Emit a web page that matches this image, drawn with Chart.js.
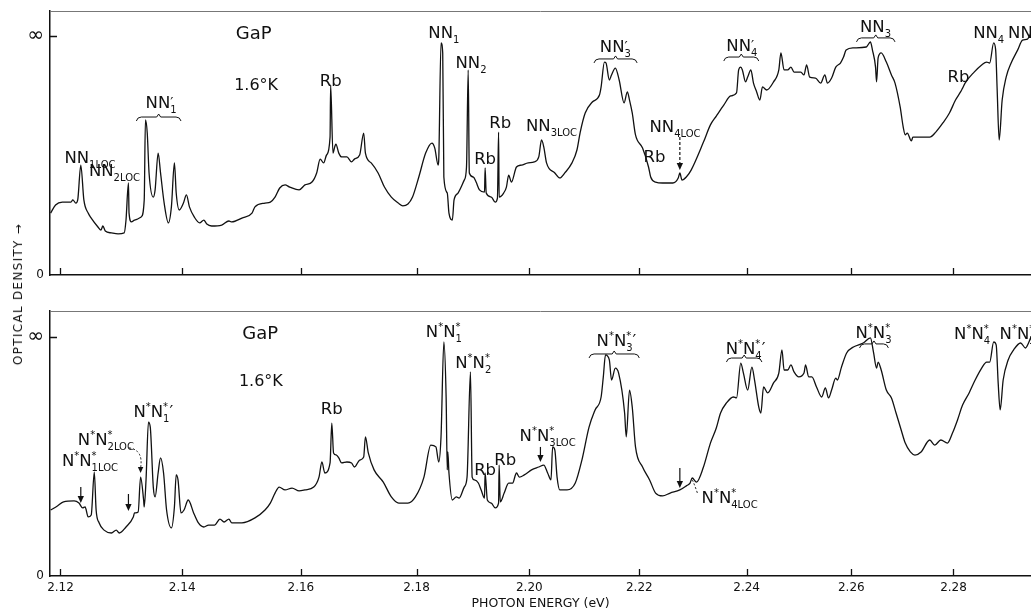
<!DOCTYPE html>
<html>
<head>
<meta charset="utf-8">
<script src="https://cdn.jsdelivr.net/npm/chart.js@4.4.1/dist/chart.umd.min.js"></script>
<style>
  html, body { margin: 0; padding: 0; background: #fff; overflow: hidden; }
  #wrap { position: relative; width: 1031px; height: 611px; }
  canvas { position: absolute; left: 0; }
  #top { top: 0; }
  #bottom { top: 290px; }
  #ytitle {
    position: absolute; left: 18px; top: 294px;
    transform: translate(-50%, -50%) rotate(-90deg);
    font: 12px "DejaVu Sans"; letter-spacing: 1.3px; white-space: nowrap; color: #111;
  }
</style>
</head>
<body>
<div id="wrap">
  <canvas id="top" width="1031" height="290"></canvas>
  <canvas id="bottom" width="1031" height="321"></canvas>
  <div id="ytitle">OPTICAL DENSITY →</div>
</div>
<script>
// photon energy (eV) tick values
const energyTicks = [2.12, 2.14, 2.16, 2.18, 2.20, 2.22, 2.24, 2.26, 2.28];

// [photon energy eV, optical density as fraction of the "infinity" level]
const topSpectrum = [
  [2.1184,0.259],[2.1192,0.293],[2.1203,0.305],[2.1217,0.305],[2.122,0.314],[2.1225,0.301],[2.1228,0.314],
  [2.1233,0.460],[2.1238,0.314],[2.1245,0.259],[2.125,0.238],[2.1261,0.201],[2.1266,0.188],[2.1269,0.205],
  [2.1273,0.184],[2.1283,0.176],[2.1294,0.172],[2.1304,0.176],[2.1307,0.230],[2.1311,0.385],[2.1312,0.259],
  [2.1316,0.222],[2.1321,0.230],[2.1332,0.243],[2.1337,0.314],[2.1339,0.649],[2.1342,0.594],[2.1345,0.427],
  [2.1352,0.326],[2.1355,0.356],[2.136,0.510],[2.1364,0.427],[2.137,0.301],[2.1377,0.218],[2.1382,0.285],
  [2.1387,0.469],[2.139,0.343],[2.1395,0.272],[2.1402,0.301],[2.1407,0.335],[2.1412,0.285],[2.142,0.243],
  [2.1429,0.218],[2.1436,0.230],[2.1441,0.213],[2.1449,0.205],[2.1466,0.209],[2.1478,0.226],[2.1483,0.222],
  [2.15,0.238],[2.1517,0.259],[2.1522,0.285],[2.1539,0.301],[2.1548,0.305],[2.1556,0.326],[2.1564,0.364],
  [2.1573,0.377],[2.1581,0.368],[2.1597,0.356],[2.1607,0.377],[2.1619,0.389],[2.1627,0.427],[2.1633,0.485],
  [2.1639,0.469],[2.1644,0.502],[2.165,0.577],[2.1651,0.795],[2.1655,0.510],[2.1658,0.536],[2.166,0.548],
  [2.1665,0.510],[2.167,0.494],[2.1679,0.494],[2.1687,0.473],[2.1692,0.485],[2.1701,0.502],[2.1708,0.594],
  [2.1711,0.510],[2.1721,0.469],[2.1733,0.427],[2.1744,0.368],[2.1756,0.326],[2.1768,0.301],[2.1776,0.289],
  [2.1785,0.297],[2.1793,0.326],[2.1804,0.410],[2.1816,0.510],[2.1827,0.552],[2.1832,0.531],[2.1838,0.460],
  [2.1839,0.481],[2.1843,0.971],[2.1846,0.929],[2.1848,0.410],[2.1854,0.343],[2.1857,0.259],[2.1863,0.230],
  [2.1866,0.314],[2.1873,0.343],[2.1884,0.397],[2.1888,0.452],[2.1891,0.858],[2.1893,0.427],[2.19,0.410],
  [2.1905,0.389],[2.1911,0.356],[2.192,0.347],[2.1921,0.448],[2.1923,0.343],[2.1932,0.326],[2.1939,0.305],
  [2.1943,0.322],[2.1945,0.598],[2.1946,0.326],[2.1954,0.343],[2.1959,0.368],[2.1963,0.418],[2.1968,0.389],
  [2.1977,0.452],[2.1986,0.460],[2.1998,0.469],[2.2009,0.473],[2.2017,0.494],[2.2022,0.565],[2.2026,0.536],
  [2.2031,0.469],[2.2046,0.427],[2.2055,0.406],[2.2064,0.427],[2.2077,0.469],[2.2086,0.523],[2.2092,0.598],
  [2.2101,0.678],[2.2114,0.724],[2.2127,0.753],[2.213,0.787],[2.2136,0.891],[2.2139,0.887],[2.2145,0.816],
  [2.2149,0.837],[2.2156,0.866],[2.2163,0.816],[2.2172,0.720],[2.2178,0.766],[2.2182,0.732],[2.2187,0.678],
  [2.2193,0.586],[2.2206,0.531],[2.2217,0.452],[2.2221,0.410],[2.223,0.389],[2.2243,0.385],[2.2262,0.385],
  [2.2272,0.406],[2.2275,0.427],[2.2279,0.397],[2.2287,0.410],[2.2296,0.439],[2.2319,0.556],[2.2332,0.628],
  [2.2343,0.665],[2.2357,0.711],[2.237,0.749],[2.2381,0.762],[2.2385,0.858],[2.2389,0.870],[2.2392,0.858],
  [2.2398,0.808],[2.2402,0.828],[2.2408,0.858],[2.2413,0.803],[2.2419,0.766],[2.2425,0.732],[2.243,0.787],
  [2.2438,0.774],[2.2451,0.808],[2.2461,0.858],[2.2465,0.929],[2.2471,0.858],[2.2478,0.858],[2.2484,0.870],
  [2.249,0.849],[2.2503,0.849],[2.2509,0.837],[2.2514,0.879],[2.252,0.828],[2.2531,0.824],[2.2541,0.803],
  [2.2549,0.837],[2.2554,0.803],[2.2562,0.824],[2.257,0.870],[2.2579,0.887],[2.2585,0.912],[2.259,0.941],
  [2.2604,0.950],[2.2629,0.954],[2.2637,0.975],[2.2641,0.941],[2.2647,0.870],[2.2649,0.808],[2.2652,0.908],
  [2.2658,0.929],[2.2668,0.891],[2.2678,0.837],[2.2685,0.803],[2.2695,0.703],[2.2701,0.619],[2.2705,0.586],
  [2.2709,0.594],[2.2717,0.561],[2.272,0.577],[2.2736,0.577],[2.2753,0.577],[2.2765,0.598],[2.2779,0.636],
  [2.2792,0.678],[2.2804,0.732],[2.2814,0.766],[2.2818,0.782],[2.2823,0.803],[2.2841,0.849],[2.2856,0.879],
  [2.2866,0.891],[2.2872,0.887],[2.288,0.971],[2.2884,0.941],[2.2887,0.774],[2.2891,0.565],[2.2897,0.732],
  [2.2905,0.828],[2.2915,0.887],[2.2928,0.941],[2.2938,0.983],[2.2948,0.987],[2.2955,1.013]
];

const bottomSpectrum = [
  [2.1184,0.276],[2.1195,0.293],[2.1205,0.310],[2.1222,0.314],[2.123,0.305],[2.1236,0.285],[2.124,0.289],
  [2.1245,0.247],[2.125,0.255],[2.1255,0.435],[2.1258,0.276],[2.1263,0.222],[2.1271,0.192],[2.1283,0.180],
  [2.1291,0.192],[2.1296,0.180],[2.1307,0.205],[2.1319,0.247],[2.1321,0.264],[2.1327,0.268],[2.1331,0.414],
  [2.1336,0.318],[2.1337,0.289],[2.134,0.402],[2.1344,0.644],[2.1347,0.623],[2.1352,0.372],[2.1355,0.331],
  [2.136,0.431],[2.1364,0.494],[2.1369,0.431],[2.1374,0.276],[2.1382,0.201],[2.1387,0.289],[2.139,0.423],
  [2.1393,0.402],[2.1398,0.264],[2.1403,0.276],[2.141,0.318],[2.1419,0.264],[2.1427,0.222],[2.1436,0.205],
  [2.1444,0.213],[2.1454,0.213],[2.1463,0.238],[2.147,0.226],[2.1478,0.238],[2.1483,0.222],[2.15,0.222],
  [2.1522,0.243],[2.1539,0.276],[2.1548,0.305],[2.1556,0.347],[2.1563,0.372],[2.1573,0.360],[2.1585,0.368],
  [2.1597,0.356],[2.1607,0.360],[2.1622,0.372],[2.1631,0.414],[2.1636,0.477],[2.1641,0.431],[2.165,0.473],
  [2.1653,0.640],[2.1656,0.515],[2.1661,0.506],[2.1665,0.494],[2.167,0.473],[2.1679,0.477],[2.1687,0.473],
  [2.1692,0.456],[2.1701,0.485],[2.1708,0.498],[2.1711,0.582],[2.1716,0.515],[2.1726,0.444],[2.1742,0.393],
  [2.1756,0.331],[2.1769,0.305],[2.1785,0.305],[2.1798,0.331],[2.1813,0.414],[2.1825,0.548],[2.1834,0.540],
  [2.1839,0.477],[2.1843,0.582],[2.1848,0.979],[2.1852,0.749],[2.1854,0.444],[2.1855,0.519],[2.1857,0.431],
  [2.1863,0.318],[2.187,0.331],[2.1875,0.326],[2.1884,0.372],[2.1889,0.414],[2.1895,0.854],[2.1898,0.414],
  [2.1902,0.402],[2.1909,0.389],[2.1914,0.360],[2.192,0.326],[2.1921,0.431],[2.1925,0.318],[2.1932,0.305],
  [2.1939,0.285],[2.1945,0.305],[2.1946,0.464],[2.1948,0.310],[2.1955,0.347],[2.1963,0.389],[2.197,0.389],
  [2.1977,0.431],[2.1982,0.414],[2.1991,0.423],[2.2004,0.444],[2.2017,0.456],[2.2026,0.464],[2.2033,0.431],
  [2.2039,0.402],[2.2042,0.540],[2.2046,0.527],[2.205,0.414],[2.2055,0.360],[2.2068,0.360],[2.2083,0.389],
  [2.2095,0.485],[2.2108,0.623],[2.2119,0.695],[2.213,0.749],[2.2134,0.833],[2.2138,0.925],[2.2145,0.904],
  [2.2149,0.820],[2.2156,0.870],[2.2162,0.849],[2.2173,0.682],[2.2176,0.582],[2.2182,0.778],[2.2187,0.707],
  [2.2193,0.540],[2.2206,0.456],[2.2219,0.402],[2.223,0.347],[2.2243,0.335],[2.2257,0.347],[2.2275,0.360],
  [2.2287,0.377],[2.2294,0.389],[2.2298,0.410],[2.2306,0.393],[2.2319,0.456],[2.2332,0.556],[2.2343,0.619],
  [2.2351,0.682],[2.2362,0.724],[2.2375,0.749],[2.2381,0.745],[2.2389,0.891],[2.2394,0.849],[2.2402,0.778],
  [2.241,0.874],[2.2415,0.820],[2.2423,0.707],[2.2427,0.682],[2.2432,0.791],[2.244,0.766],[2.2451,0.808],
  [2.2461,0.849],[2.2467,0.946],[2.2471,0.862],[2.2478,0.862],[2.2484,0.883],[2.249,0.854],[2.2499,0.833],
  [2.2509,0.849],[2.2512,0.883],[2.2518,0.833],[2.2524,0.833],[2.2533,0.791],[2.2543,0.749],[2.255,0.787],
  [2.2556,0.745],[2.2562,0.778],[2.257,0.828],[2.2573,0.820],[2.2581,0.874],[2.2591,0.933],[2.2604,0.958],
  [2.2623,0.975],[2.2637,0.996],[2.2643,0.937],[2.2649,0.870],[2.2652,0.895],[2.2658,0.862],[2.2668,0.778],
  [2.2678,0.745],[2.2687,0.682],[2.2697,0.611],[2.2705,0.556],[2.2715,0.519],[2.2724,0.506],[2.2736,0.519],
  [2.2753,0.569],[2.2763,0.548],[2.2775,0.569],[2.2788,0.556],[2.2798,0.598],[2.2808,0.653],[2.2818,0.715],
  [2.2831,0.766],[2.2843,0.820],[2.2856,0.870],[2.2866,0.895],[2.2872,0.895],[2.288,0.979],[2.2885,0.967],
  [2.2889,0.808],[2.2893,0.695],[2.2899,0.820],[2.2909,0.904],[2.292,0.946],[2.2934,0.975],[2.2944,0.954],
  [2.295,0.975],[2.2955,1.0]
];

// annotations: text (_ = subscript, ^ = superscript), energy, density
const topLabels = [
  ['GaP', 2.1520, 1.013], ['1.6°K', 2.1524, 0.799], ['Rb', 2.1651, 0.816],
  ['NN_{1LOC}', 2.1248, 0.494], ['NN_{2LOC}', 2.1288, 0.439], ['NN_1^′', 2.1365, 0.724],
  ['NN_1', 2.1848, 1.017], ['NN_2', 2.1896, 0.891], ['Rb', 2.1948, 0.640], ['Rb', 2.1921, 0.490],
  ['NN_{3LOC}', 2.2040, 0.628], ['NN_3^′', 2.2156, 0.958], ['Rb', 2.2228, 0.498],
  ['NN_{4LOC}', 2.2266, 0.623], ['NN_4^′', 2.2391, 0.962], ['NN_3', 2.2647, 1.042],
  ['Rb', 2.2810, 0.833], ['NN_4', 2.2870, 1.017], ['NN_5', 2.2940, 1.017]
];
const topBrackets = [[2.1324, 2.1398, 0.661], [2.2117, 2.2196, 0.904], [2.2357, 2.2423, 0.912], [2.2610, 2.2685, 0.992]];
const topArrows = [[2.2275, 0.577, 0.439, true]];
const topCurves = [];

const bottomLabels = [
  ['GaP', 2.1531, 1.017], ['1.6°K', 2.1532, 0.820], ['N^*N_1^*′', 2.1352, 0.690],
  ['N^*N_{2LOC}^*', 2.1274, 0.573], ['N^*N_{1LOC}^*', 2.1248, 0.485], ['Rb', 2.1653, 0.703],
  ['N^*N_1^*', 2.1848, 1.025], ['N^*N_2^*', 2.1900, 0.895], ['Rb', 2.1921, 0.448], ['Rb', 2.1957, 0.490],
  ['N^*N_{3LOC}^*', 2.2033, 0.590], ['N^*N_3^*′', 2.2158, 0.987], ['N^*N_4^*′', 2.2398, 0.954],
  ['N^*N_3^*', 2.2643, 1.021], ['N^*N_4^*', 2.2837, 1.017], ['N^*N_5^*', 2.2928, 1.017],
  ['N^*N_{4LOC}^*', 2.2368, 0.331]
];
const bottomBrackets = [[2.2108, 2.2200, 0.929], [2.2362, 2.2429, 0.912], [2.2616, 2.2672, 0.971]];
const bottomArrows = [[2.1233, 0.372, 0.305, false], [2.1311, 0.343, 0.272, false], [2.2020, 0.540, 0.477, false], [2.2275, 0.452, 0.368, false]];
const bottomCurves = [[2.1312, 0.536, 2.1331, 0.431, true], [2.2298, 0.402, 2.2308, 0.345, false]];

const FONT = '"DejaVu Sans", sans-serif';

// x axis: the spectrometer scale is close to linear in E^-1.75
class PowerScale extends Chart.LinearScale {
  static id = 'power';
  configure() {
    super.configure();
    this._p = this.options.exponent || -1.75;
    this._u0 = Math.pow(this.min, this._p);
    this._u1 = Math.pow(this.max, this._p);
  }
  getPixelForValue(value) {
    if (value === null || value === undefined || isNaN(value)) return NaN;
    return this.getPixelForDecimal((Math.pow(value, this._p) - this._u0) / (this._u1 - this._u0));
  }
  getValueForPixel(pixel) {
    const d = this.getDecimalForPixel(pixel);
    return Math.pow(this._u0 + d * (this._u1 - this._u0), 1 / this._p);
  }
}
Chart.register(PowerScale);

function parseRich(s) {
  const out = [];
  let i = 0;
  while (i < s.length) {
    let kind = 'n';
    if (s[i] === '_' || s[i] === '^') { kind = s[i] === '_' ? 'sub' : 'sup'; i++; }
    let txt;
    if (s[i] === '{') { const j = s.indexOf('}', i); txt = s.slice(i + 1, j); i = j + 1; }
    else { txt = s[i]; i++; }
    if (kind === 'n' && out.length && out[out.length - 1].kind === 'n') out[out.length - 1].txt += txt;
    else out.push({ kind, txt });
  }
  return out;
}

function drawRich(ctx, s, cx, cy, size) {
  const small = Math.round(size * 0.62);
  const segSize = seg => seg.kind === 'n' ? size : (seg.txt === '′' ? size * 0.85 : small);
  let x = 0, prevStart = 0, prevKind = null;
  const placed = [];
  for (const seg of parseRich(s)) {
    ctx.font = segSize(seg) + 'px ' + FONT;
    const w = ctx.measureText(seg.txt).width;
    let sx = x;
    if (seg.kind === 'sup' && prevKind === 'sub') { sx = prevStart; x = Math.max(x, sx + w); }
    else x = sx + w;
    placed.push({ kind: seg.kind, txt: seg.txt, sx, fs: segSize(seg) });
    prevStart = sx; prevKind = seg.kind;
  }
  const left = cx - x / 2;
  const base = cy + size * 0.36;
  ctx.textAlign = 'left';
  ctx.textBaseline = 'alphabetic';
  for (const p of placed) {
    ctx.font = p.fs + 'px ' + FONT;
    let dy = 0;
    if (p.kind === 'sub') dy = size * 0.3;
    else if (p.kind === 'sup') dy = p.txt === '′' ? -size * 0.05 : -size * 0.42;
    ctx.fillText(p.txt, left + p.sx, base + dy);
  }
}

function arrowHead(ctx, x, y, dirY, size) {
  ctx.beginPath();
  ctx.moveTo(x, y);
  ctx.lineTo(x - size * 0.45, y - dirY * size);
  ctx.lineTo(x + size * 0.45, y - dirY * size);
  ctx.closePath();
  ctx.fill();
}

// frame line on top, inward tick marks
const framePlugin = {
  id: 'frame',
  afterDraw(chart) {
    const { ctx, chartArea: a, scales: { x, y } } = chart;
    ctx.save();
    ctx.strokeStyle = '#777';
    ctx.lineWidth = 1;
    ctx.beginPath();
    ctx.moveTo(a.left, a.top + 0.5);
    ctx.lineTo(a.right, a.top + 0.5);
    ctx.stroke();
    ctx.strokeStyle = '#111';
    ctx.lineWidth = 1.3;
    ctx.beginPath();
    energyTicks.forEach(v => {
      const px = Math.round(x.getPixelForValue(v)) + 0.5;
      ctx.moveTo(px, a.bottom);
      ctx.lineTo(px, a.bottom - 7);
    });
    const py = Math.round(y.getPixelForValue(1)) + 0.5;
    ctx.moveTo(a.left, py);
    ctx.lineTo(a.left + 7, py);
    ctx.stroke();
    ctx.restore();
  }
};

function marksPlugin(labels, brackets, arrows, curves) {
  return {
    id: 'marks',
    afterDatasetsDraw(chart) {
      const { ctx, scales: { x, y } } = chart;
      ctx.save();
      ctx.fillStyle = '#111';
      ctx.strokeStyle = '#111';
      labels.forEach(([t, e, d]) => {
        const size = (t === 'GaP') ? 18 : (t === '1.6°K' ? 16 : 16.5);
        drawRich(ctx, t, x.getPixelForValue(e), y.getPixelForValue(d), size);
      });
      ctx.lineWidth = 1;
      brackets.forEach(([e1, e2, d]) => {
        const x1 = x.getPixelForValue(e1), x2 = x.getPixelForValue(e2), py = y.getPixelForValue(d);
        const xc = (x1 + x2) / 2;
        ctx.beginPath();
        ctx.moveTo(x1, py + 4);
        ctx.quadraticCurveTo(x1 + 1, py, x1 + 5, py);
        ctx.lineTo(xc - 2, py);
        ctx.lineTo(xc, py - 3);
        ctx.lineTo(xc + 2, py);
        ctx.lineTo(x2 - 5, py);
        ctx.quadraticCurveTo(x2 - 1, py, x2, py + 4);
        ctx.stroke();
      });
      arrows.forEach(([e, d1, d2, dashed]) => {
        const px = x.getPixelForValue(e), y1 = y.getPixelForValue(d1), y2 = y.getPixelForValue(d2);
        ctx.lineWidth = 1.2;
        ctx.setLineDash(dashed ? [3, 2] : []);
        ctx.beginPath();
        ctx.moveTo(px, y1);
        ctx.lineTo(px, y2 - 5);
        ctx.stroke();
        ctx.setLineDash([]);
        arrowHead(ctx, px, y2, 1, 7);
      });
      curves.forEach(([e1, d1, e2, d2, head]) => {
        const x1 = x.getPixelForValue(e1), y1 = y.getPixelForValue(d1);
        const x2 = x.getPixelForValue(e2), y2 = y.getPixelForValue(d2);
        ctx.lineWidth = 1;
        ctx.setLineDash([2, 2]);
        ctx.beginPath();
        ctx.moveTo(x1, y1);
        ctx.quadraticCurveTo(x2 + (head ? 3 : -4), y1 + 2, x2, y2 - (head ? 5 : 0));
        ctx.stroke();
        ctx.setLineDash([]);
        if (head) arrowHead(ctx, x2, y2, 1, 6);
      });
      ctx.restore();
    }
  };
}

function makePanel(id, spectrum, padTop, yMax, xHeight, showLabels, marks) {
  return new Chart(document.getElementById(id), {
    type: 'line',
    data: {
      datasets: [{
        data: spectrum.map(([e, d]) => ({ x: e, y: d })),
        borderColor: '#111',
        borderWidth: 1.3,
        pointRadius: 0,
        cubicInterpolationMode: 'monotone',
        fill: false
      }]
    },
    options: {
      responsive: false,
      animation: false,
      devicePixelRatio: 1,
      layout: { padding: { top: padTop, left: 0, right: 0, bottom: 0 } },
      plugins: { legend: { display: false }, tooltip: { enabled: false } },
      scales: {
        x: {
          type: 'power',
          exponent: -1.75,
          min: 2.1183,
          max: 2.2955,
          bounds: 'data',
          grid: { display: false, drawTicks: false },
          border: { display: true, color: '#111', width: 1.5 },
          afterBuildTicks: s => { s.ticks = energyTicks.map(v => ({ value: v })); },
          ticks: {
            display: showLabels, autoSkip: false, maxRotation: 0, padding: 5, color: '#111',
            font: { family: FONT, size: 12 },
            callback: v => v.toFixed(2)
          },
          title: {
            display: showLabels, text: 'PHOTON ENERGY (eV)', color: '#111',
            font: { family: FONT, size: 12.5 }, padding: { top: 2, bottom: 0 }
          },
          afterFit: s => { s.height = xHeight; s.paddingLeft = 0; s.paddingRight = 0; }
        },
        y: {
          min: 0,
          max: yMax,
          grid: { display: false, drawTicks: false },
          border: { display: true, color: '#111', width: 1.5 },
          afterBuildTicks: s => { s.ticks = [{ value: 0 }, { value: 1 }]; },
          ticks: {
            padding: 6, color: '#111',
            font: c => ({ family: FONT, size: c.tick && c.tick.value === 1 ? 20 : 12 }),
            callback: v => (v === 1 ? '∞' : '0')
          },
          afterFit: s => { s.width = 50; s.paddingTop = 0; s.paddingBottom = 0; }
        }
      }
    },
    plugins: [framePlugin, marks]
  });
}

makePanel('top', topSpectrum, 11, 264 / 239, 15, false,
  marksPlugin(topLabels, topBrackets, topArrows, topCurves));
makePanel('bottom', bottomSpectrum, 21, 265 / 239, 35, true,
  marksPlugin(bottomLabels, bottomBrackets, bottomArrows, bottomCurves));
</script>
</body>
</html>
